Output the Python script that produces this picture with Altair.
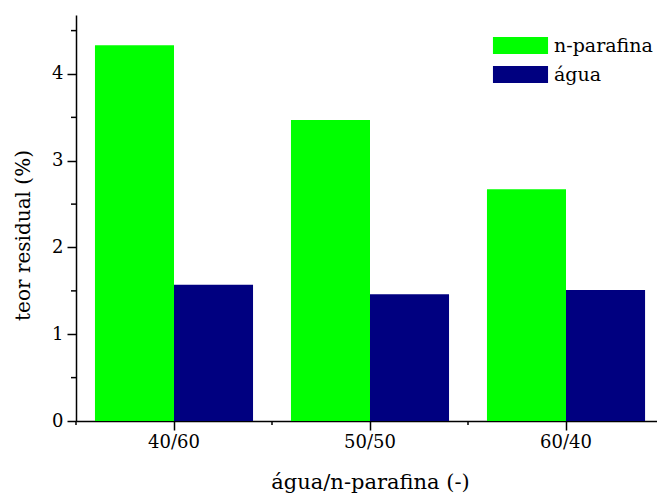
import altair as alt
import pandas as pd

# Residual content per water / n-paraffin ratio
ratios = ["40/60", "50/50", "60/40"]
n_parafina = [4.33, 3.47, 2.67]
agua = [1.57, 1.46, 1.51]

series_names = ["n-parafina", "água"]
series_colors = ["#00FF00", "#000080"]

minor_y = [0.5, 1.5, 2.5, 3.5, 4.5]
major_y = [0, 1, 2, 3, 4]

rows = []
for r, a, b in zip(ratios, n_parafina, agua):
    rows.append({"ratio": r, "serie": series_names[0], "teor": a})
    rows.append({"ratio": r, "serie": series_names[1], "teor": b})
df = pd.DataFrame(rows)

FONT = "DejaVu Serif"
W, H = 581, 406

x_scale = alt.Scale(domain=ratios, range=[0, 588], paddingInner=0, paddingOuter=0)
y_scale = alt.Scale(domain=[0, 4.68], nice=False, zero=True)

bars = alt.Chart(df).mark_bar(strokeWidth=0).encode(
    x=alt.X(
        "ratio:N",
        scale=x_scale,
        sort=ratios,
        axis=alt.Axis(
            title="água/n-parafina (-)",
            labelAngle=0,
            labelFontSize=18,
            labelColor="black",
            labelPadding=3,
            tickSize=9,
            tickColor="black",
            tickWidth=1.5,
            domainColor="black",
            domainWidth=1.5,
            titleFontSize=21,
            titleFontWeight="normal",
            titleColor="black",
            titleBaseline="middle",
            titleY=61,
        ),
    ),
    xOffset=alt.XOffset(
        "serie:N",
        sort=series_names,
        scale=alt.Scale(domain=series_names, paddingInner=0, paddingOuter=0.24),
    ),
    y=alt.Y(
        "teor:Q",
        scale=y_scale,
        axis=alt.Axis(
            title="teor residual (%)",
            values=major_y,
            format=".0f",
            grid=False,
            labelFontSize=18,
            labelColor="black",
            labelPadding=4,
            tickSize=9,
            tickColor="black",
            tickWidth=1.5,
            domainColor="black",
            domainWidth=1.5,
            titleFontSize=20,
            titleFontWeight="normal",
            titleColor="black",
            titleAlign="center",
            titleBaseline="middle",
            titleX=-53,
            titleY=220,
        ),
    ),
    color=alt.Color(
        "serie:N",
        sort=series_names,
        scale=alt.Scale(domain=series_names, range=series_colors),
        legend=alt.Legend(
            title=None,
            orient="none",
            legendX=435,
            legendY=21,
            symbolType="M-3.24,-1H3.24V1H-3.24Z",
            symbolSize=289,
            symbolStrokeWidth=0,
            symbolOpacity=1,
            labelFontSize=19,
            labelColor="black",
            labelOffset=24,
            labelLimit=200,
            rowPadding=9,
            padding=0,
        ),
    ),
)

# Minor ticks on the value axis
y_minor = alt.Chart(pd.DataFrame({"v": minor_y})).mark_rule(
    color="black", strokeWidth=1.5
).encode(
    y=alt.Y("v:Q", scale=y_scale),
    x=alt.value(-5),
    x2=alt.value(0),
)

# Minor ticks on the category axis, at band boundaries
x_minor = alt.Chart(pd.DataFrame({"ratio": ratios})).mark_rule(
    color="black", strokeWidth=1.5
).encode(
    x=alt.X("ratio:N", scale=x_scale, sort=ratios, bandPosition=0),
    y=alt.value(H),
    y2=alt.value(H + 4),
)

chart = (
    alt.layer(bars, y_minor, x_minor)
    .properties(
        width=W,
        height=H,
        autosize=alt.AutoSizeParams(type="none"),
        padding={"left": 76, "top": 15, "right": 0, "bottom": 74},
        background="white",
    )
    .configure(font=FONT)
    .configure_axis(labelFont=FONT, titleFont=FONT)
    .configure_legend(labelFont=FONT)
    .configure_view(stroke=None)
)

chart.save("out.html", embed_options={"renderer": "svg", "actions": False})
